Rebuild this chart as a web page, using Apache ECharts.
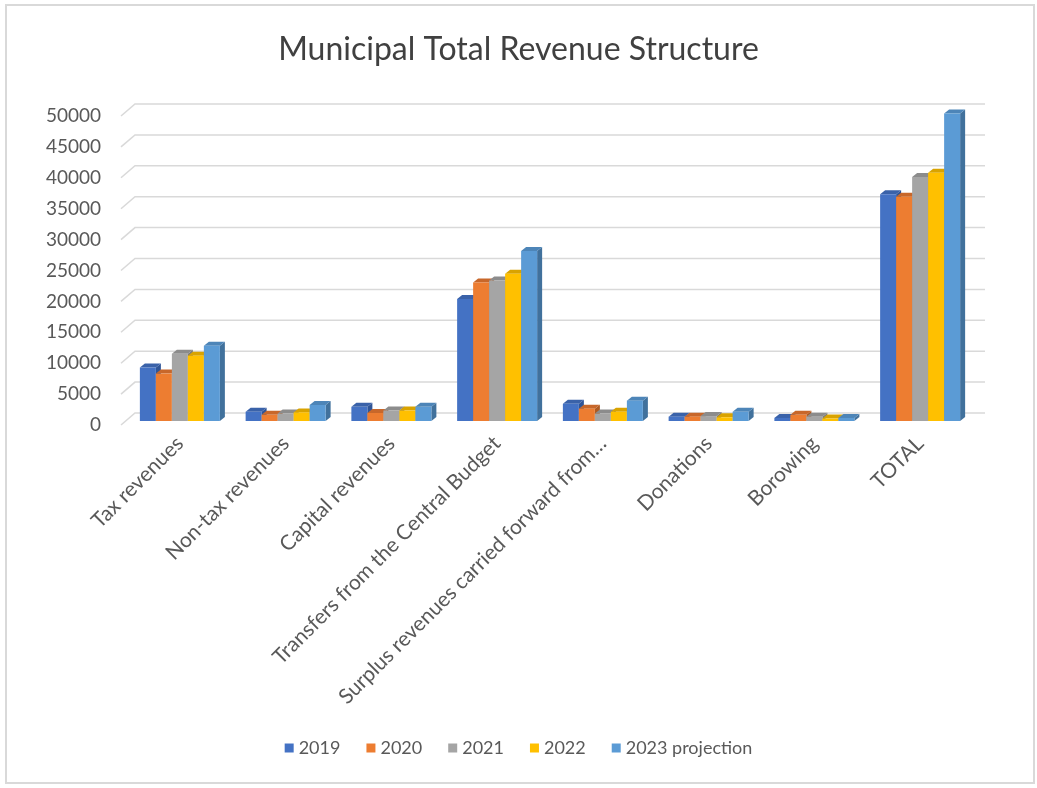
<!DOCTYPE html>
<html>
<head>
<meta charset="utf-8">
<script src="https://cdn.jsdelivr.net/npm/echarts@6/dist/echarts.min.js"></script>
<style>html,body{margin:0;padding:0;background:#fff}#c{width:1037px;height:788px}</style>
</head>
<body>
<div id="c"></div>
<script>
const categories = ["Tax revenues","Non-tax revenues","Capital revenues","Transfers from the Central Budget","Surplus revenues carried forward from\u2026","Donations","Borowing","TOTAL"];
const seriesNames = ["2019","2020","2021","2022","2023 projection"];
const v2019 = [8700,1500,2300,19800,2800,700,500,36800];
const v2020 = [7700,1000,1300,22500,2000,700,1000,36400];
const v2021 = [10900,1200,1700,22800,1200,800,700,39600];
const v2022 = [10600,1400,1700,23900,1500,600,400,40300];
const v2023 = [12200,2600,2300,27600,3300,1500,500,49900];
const allValues = [v2019, v2020, v2021, v2022, v2023];
const yTickValues = [0,5000,10000,15000,20000,25000,30000,35000,40000,45000,50000];
const yTicks = {min:0, max:50000, interval:5000};

const front = ["#4472C4","#ED7D31","#A5A5A5","#FFC000","#5B9BD5"];
const topC  = ["#3A62A9","#C8672A","#8C8C8C","#D9A300","#4D85B8"];
const sideC = ["#2F5597","#AE5A21","#7B7B7B","#BF9000","#41719C"];
const FONT = "Lato";
const TXT = "#595959";
const GRIDC = "#d9d9d9";
const BW = 16, DX = 5, DY = 4;
const WALL_DX = 14, WALL_DY = 12;

function makeRender(si){
  return function(params, api){
    const idx = api.value(0), val = api.value(1);
    const c = api.coord([idx, val]);
    const b = api.coord([idx, 0]);
    const x = c[0] - 2.5*BW + si*BW;
    const yT = c[1], yB = b[1];
    return {
      type:'group',
      children:[
        {type:'polygon', shape:{points:[[x+BW,yT],[x+BW+DX,yT-DY],[x+BW+DX,yB-DY],[x+BW,yB]]}, style:{fill:sideC[si]}},
        {type:'polygon', shape:{points:[[x,yT],[x+BW,yT],[x+BW+DX,yT-DY],[x+DX,yT-DY]]}, style:{fill:topC[si]}},
        {type:'rect', shape:{x:x, y:yT, width:BW, height:yB-yT}, style:{fill:front[si]}}
      ]
    };
  };
}

function renderGridLine(params, api){
  const cs = params.coordSys;
  const p = api.coord([0, api.value(1)]);
  const y = p[1];
  return {
    type:'polyline',
    shape:{points:[[cs.x, y],[cs.x+WALL_DX, y-WALL_DY],[cs.x+cs.width, y-WALL_DY]]},
    style:{stroke:GRIDC, lineWidth:1.5, fill:null}
  };
}

const series = [{
  type:'custom', name:'grid', xAxisIndex:0, yAxisIndex:0, silent:true, z:1,
  renderItem: renderGridLine,
  data: yTickValues.map(v=>[0,v])
}].concat(allValues.map((vals, si) => ({
  type:'custom',
  name: seriesNames[si],
  xAxisIndex:1, yAxisIndex:1,
  itemStyle:{color: front[si]},
  renderItem: makeRender(si),
  data: vals.map((v,i)=>[i,v]),
  z: 2 + si
})));

const chart = echarts.init(document.getElementById('c'), null, {renderer:'canvas'});
chart.setOption({
  backgroundColor:'#fff',
  animation:false,
  title:{text:'Municipal Total Revenue Structure', left:'center', top:29,
    textStyle:{fontFamily:FONT, fontSize:32, fontWeight:'normal', color:'#404040'}},
  legend:{bottom:26, left:'center', icon:'rect', itemWidth:9, itemHeight:9, itemGap:26,
    data: seriesNames,
    textStyle:{fontFamily:FONT, fontSize:18, color:TXT}},
  graphic:[{type:'rect', shape:{x:6, y:5, width:1028, height:778}, style:{fill:null, stroke:'#d9d9d9', lineWidth:2}, silent:true}],
  grid:[
    {left:121, right:52, top:116, bottom:363},
    {left:127, right:64, top:113, bottom:367}
  ],
  xAxis:[
    {type:'value', gridIndex:0, min:0, max:1, show:false},
    {type:'category', gridIndex:1, data:categories,
      axisLine:{show:false}, axisTick:{show:false},
      axisLabel:{rotate:45, interval:0, margin:19, fontFamily:FONT, fontSize:21, color:TXT}}
  ],
  yAxis:[
    {type:'value', gridIndex:0, min:yTicks.min, max:yTicks.max, interval:yTicks.interval,
      axisLine:{show:false}, axisTick:{show:false},
      splitLine:{show:false},
      axisLabel:{margin:20, fontFamily:FONT, fontSize:19, color:TXT, formatter:(v)=>String(v)}},
    {type:'value', gridIndex:1, min:yTicks.min, max:yTicks.max, interval:yTicks.interval, show:false, splitLine:{show:false}}
  ],
  series: series
});
</script>
</body>
</html>
